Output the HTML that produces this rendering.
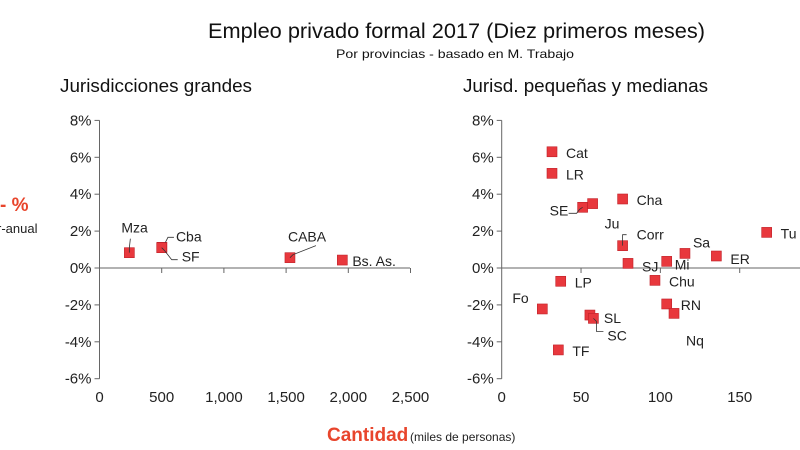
<!DOCTYPE html>
<html><head><meta charset="utf-8"><style>
body{margin:0;background:#fff;}
svg{display:block;font-family:"Liberation Sans",Arial,sans-serif;}
</style></head><body>
<svg id="chart" width="800" height="450" viewBox="0 0 800 450">
<text x="208" y="38" font-size="21" textLength="497" lengthAdjust="spacingAndGlyphs" fill="#111">Empleo privado formal 2017 (Diez primeros meses)</text>
<text x="336" y="58" font-size="12" textLength="238" lengthAdjust="spacingAndGlyphs" fill="#111">Por provincias - basado en M. Trabajo</text>
<text x="60" y="92" font-size="18" textLength="192" lengthAdjust="spacingAndGlyphs" fill="#111">Jurisdicciones grandes</text>
<text x="463" y="92" font-size="18" textLength="245" lengthAdjust="spacingAndGlyphs" fill="#111">Jurisd. pequeñas y medianas</text>
<text x="0" y="211" font-size="19" font-weight="bold" fill="#e8452c">- %</text>
<text x="-3" y="233" font-size="13" fill="#222">r-anual</text>
<text x="327" y="441" font-size="19" font-weight="bold" fill="#e8452c">Cantidad</text>
<text x="410" y="441" font-size="12" fill="#222">(miles de personas)</text>
<g id="left"></g>
<g id="right"></g>
</svg>
<script>
const yTicks=[8,6,4,2,0,-2,-4,-6];
const leftXTicks=[0,500,1000,1500,2000,2500];
const leftXLabels=["0","500","1,000","1,500","2,000","2,500"];
const leftNames=["Mza","Cba","SF","CABA","Bs. As."];
const leftX=[240,502,500,1531,1952];
const leftY=[0.83,1.12,1.10,0.56,0.43];
const rightXTicks=[0,50,100,150];
const rightXLabels=["0","50","100","150"];
const rightNames=["Cat","LR","SE","Ju","Cha","Corr","SJ","Mi","Sa","ER","Tu","LP","Chu","Fo","SL","SC","RN","Nq","TF"];
const rightX=[31.7,31.7,51,57.3,76.2,76.2,79.6,104,115.5,135.3,167,37.2,96.6,25.6,55.6,57.8,104,108.6,35.7];
const rightY=[6.3,5.13,3.29,3.49,3.74,1.21,0.25,0.36,0.79,0.65,1.93,-0.72,-0.67,-2.22,-2.55,-2.73,-1.95,-2.46,-4.44];
// label offsets (layout, not data)
const leftLab=[[-8,-20,[[0,-5],[1,-14]]],[14,-6,[[3,-4],[6,-10],[12,-10]]],[20,14,[[3,3],[10,12],[16,12]]],[-2,-16,[[3,-3],[26,-12]]],[10,6,null]];
const rightLab=[[14,6,null],[14,6,null],[-33,8,[[-3,2],[-6,6],[-14,6]]],[12,25,null],[14,6,null],[14,-6,[[0,-3],[0,-11],[4,-11]]],[14,8,null],[8,8,null],[8,-6,null],[14,8,null],[14,6,null],[14,6,null],[14,6,null],[-30,-6,null],[14,8,null],[14,22,[[3,3],[3,13],[10,13]]],[14,6,null],[12,32,null],[14,6,null]];
const NS="http://www.w3.org/2000/svg";
const yScale=v=>268-v*18.45;
function el(t,a,p){const e=document.createElementNS(NS,t);for(const k in a)e.setAttribute(k,a[k]);p.appendChild(e);return e;}
function panel(g,x0,xs,xTicks,xLabels,names,xs2,ys,lab,axisEnd){
  const ax=el('line',{x1:x0,y1:yScale(8),x2:x0,y2:yScale(-6),stroke:'#666','stroke-width':1},g);
  
  
  const xl=el('line',{x1:x0,y1:yScale(0),x2:axisEnd,y2:yScale(0),stroke:'#666','stroke-width':1},g);
  
  
  yTicks.forEach(v=>{
    el('line',{x1:x0-5,y1:yScale(v),x2:x0,y2:yScale(v),stroke:'#666'},g);
    const t=el('text',{x:x0-8,y:yScale(v)+5,'font-size':15,'text-anchor':'end',fill:'#222'},g);
    t.textContent=v+'%';
    
    
  });
  xTicks.forEach((v,i)=>{
    const x=x0+xs(v);
    if(i>0) el('line',{x1:x,y1:268,x2:x,y2:273,stroke:'#666'},g);
    const t=el('text',{x:x,y:402,'font-size':15,'text-anchor':'middle',fill:'#222'},g);
    t.textContent=xLabels[i];
    
    
  });
  names.forEach((n,i)=>{
    const px=x0+xs(xs2[i]),py=yScale(ys[i]);
    const r=el('rect',{x:px-5,y:py-5,width:10,height:10,fill:'#e8383d',stroke:'#c02028','stroke-width':0.6},g);
    
    
    const L=lab[i];
    if(L[2]){
      const pts=[[px,py]].concat(L[2].map(p=>[px+p[0],py+p[1]]));
      const pl=el('polyline',{points:pts.map(p=>p.join(',')).join(' '),fill:'none',stroke:'#333','stroke-width':0.8},g);
      
      
    }
    const t=el('text',{x:px+L[0],y:py+L[1],'font-size':14,fill:'#222'},g);
    t.textContent=n;
    
    
  });
}
panel(document.getElementById('left'),99.5,v=>v*0.1244,leftXTicks,leftXLabels,leftNames,leftX,leftY,leftLab,410);
panel(document.getElementById('right'),501.7,v=>v*1.5867,rightXTicks,rightXLabels,rightNames,rightX,rightY,rightLab,800);
</script>
</body></html>
